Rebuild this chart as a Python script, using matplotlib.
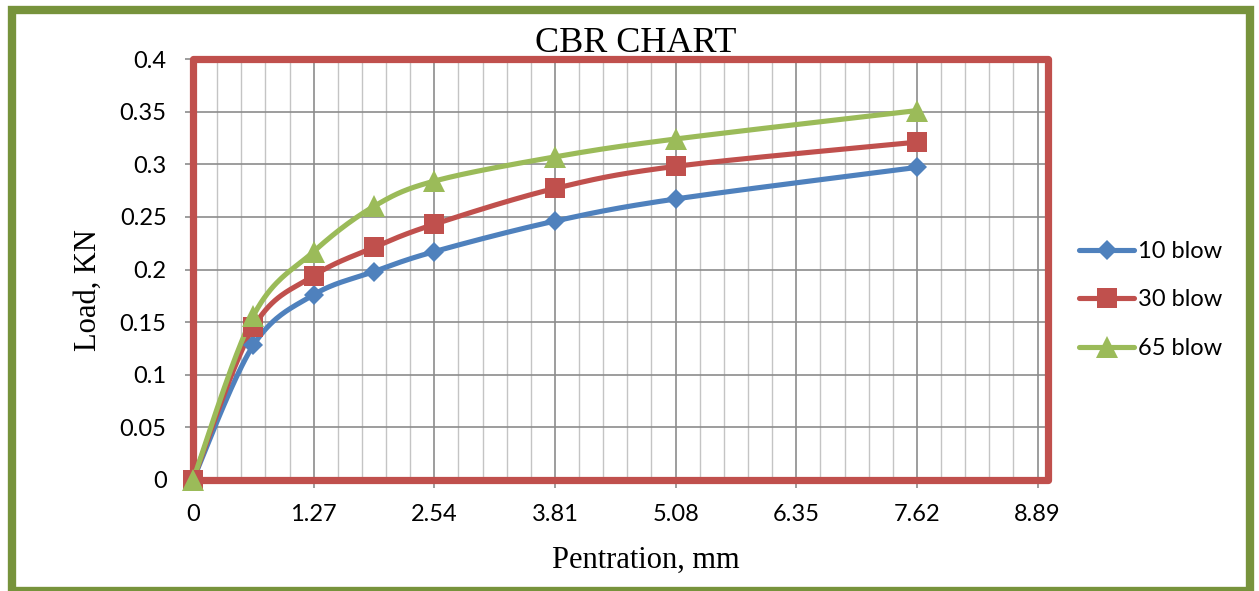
import numpy as np
import matplotlib
matplotlib.use("Agg")
import matplotlib.pyplot as plt
from matplotlib.patches import Rectangle
from matplotlib.ticker import MultipleLocator, FixedLocator

# Penetration (mm) and load (kN) readings
penetration = [0, 0.635, 1.27, 1.905, 2.54, 3.81, 5.08, 7.62]
load_10 = [0, 0.128, 0.176, 0.198, 0.217, 0.246, 0.267, 0.297]
load_30 = [0, 0.145, 0.194, 0.221, 0.243, 0.277, 0.298, 0.321]
load_65 = [0, 0.156, 0.217, 0.260, 0.284, 0.307, 0.324, 0.351]
series_labels = ["10 blow", "30 blow", "65 blow"]
x_ticks = [0, 1.27, 2.54, 3.81, 5.08, 6.35, 7.62, 8.89]
x_tick_labels = ["0", "1.27", "2.54", "3.81", "5.08", "6.35", "7.62", "8.89"]
y_ticks = [0, 0.05, 0.1, 0.15, 0.2, 0.25, 0.3, 0.35, 0.4]
y_tick_labels = ["0", "0.05", "0.1", "0.15", "0.2", "0.25", "0.3", "0.35", "0.4"]

W, H = 1259, 591
fig = plt.figure(figsize=(W / 100, H / 100), dpi=100)
fig.patch.set_facecolor("white")

ax = fig.add_axes([193 / W, 1 - 480 / H, (1048 - 193) / W, (480 - 59) / H])
ax.set_xlim(0, 9)
ax.set_ylim(0, 0.4)


def smooth(xs, ys, n=40):
    """Cubic Bezier smoothing through every point (Catmull-Rom style)."""
    xs = np.asarray(xs, float)
    ys = np.asarray(ys, float)
    px = np.concatenate([[xs[0]], xs, [xs[-1]]])
    py = np.concatenate([[ys[0]], ys, [ys[-1]]])
    outx, outy = [], []
    t = np.linspace(0, 1, n)
    for i in range(1, len(px) - 2):
        p0 = np.array([px[i], py[i]])
        p3 = np.array([px[i + 1], py[i + 1]])
        c1 = p0 + (np.array([px[i + 1], py[i + 1]]) - np.array([px[i - 1], py[i - 1]])) / 6
        c2 = p3 - (np.array([px[i + 2], py[i + 2]]) - np.array([px[i], py[i]])) / 6
        b = ((1 - t) ** 3)[:, None] * p0 + (3 * (1 - t) ** 2 * t)[:, None] * c1 \
            + (3 * (1 - t) * t ** 2)[:, None] * c2 + (t ** 3)[:, None] * p3
        outx.extend(b[:, 0])
        outy.extend(b[:, 1])
    return np.array(outx), np.array(outy)


colors = ["#4F81BD", "#C0504D", "#9BBB59"]
markers = ["D", "s", "^"]
msizes = [10.5, 14, 15.5]
lw = 3.7
handles = []
for ys, c, m, ms, lab in zip([load_10, load_30, load_65], colors, markers, msizes, series_labels):
    sx, sy = smooth(penetration, ys)
    ax.plot(sx, sy, color=c, lw=lw, solid_capstyle="round", zorder=4, clip_on=False)
    ax.plot(penetration, ys, linestyle="none", marker=m, ms=ms, color=c,
            markeredgewidth=0, zorder=5, clip_on=False)
    handles.append(plt.Line2D([], [], color=c, lw=lw, marker=m, ms=ms,
                              markeredgewidth=0, solid_capstyle="round", label=lab))

# Grid
ax.xaxis.set_major_locator(FixedLocator(x_ticks))
ax.xaxis.set_minor_locator(MultipleLocator(0.254))
ax.set_xticklabels(x_tick_labels)
ax.set_yticks(y_ticks)
ax.set_yticklabels(y_tick_labels)
ax.set_axisbelow(True)
ax.grid(True, which="major", color="#8C8C8C", lw=1.2)
ax.grid(True, which="minor", axis="x", color="#C4C4C4", lw=1.0)

for lbl in ax.get_xticklabels() + ax.get_yticklabels():
    lbl.set_fontfamily("Lato")
    lbl.set_fontsize(17)
ax.tick_params(axis="both", which="major", direction="out", length=6, width=1.2,
               color="#8C8C8C", labelcolor="black")
ax.tick_params(axis="y", pad=13)
ax.tick_params(axis="x", pad=11)
ax.tick_params(axis="x", which="minor", length=0)

for s in ax.spines.values():
    s.set_visible(False)

# Red plot-area border
ax.add_patch(Rectangle((0, 0), 1, 1, transform=ax.transAxes, fill=False,
                       ec="#C0504D", lw=5.2, joinstyle="round", clip_on=False, zorder=3))

# Titles
fig.text(636 / W, 1 - 52 / H, "CBR CHART", family="Liberation Serif", size=26,
         ha="center", va="baseline")
fig.text(646 / W, 1 - 568 / H, "Pentration, mm", family="Liberation Serif", size=22,
         ha="center", va="baseline")
fig.text(88 / W, 1 - 290 / H, "Load, KN", family="Liberation Serif", size=22,
         ha="center", va="center", rotation=90)

leg = fig.legend(handles=handles, loc="center left",
                 bbox_to_anchor=(1079 / W, 1 - 300 / H), frameon=False,
                 prop=dict(family="Lato", size=17), handlelength=2.35,
                 handletextpad=0.15, labelspacing=1.17, borderpad=0, borderaxespad=0,
                 numpoints=1)

# Outer green frame
fig.patches.append(Rectangle((12 / W, 0.5 / H), (1249.5 - 12) / W, (H - 0.5 - 9.5) / H,
                             transform=fig.transFigure, fill=False, ec="#77933C",
                             lw=6, joinstyle="miter", zorder=10))

fig.savefig("out.png", dpi=100)
